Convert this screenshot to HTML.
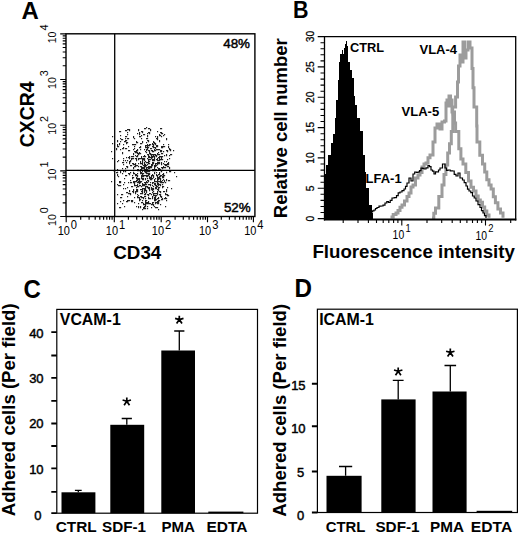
<!DOCTYPE html>
<html><head><meta charset="utf-8"><title>Figure</title>
<style>
html,body{margin:0;padding:0;background:#fff;}
body{width:520px;height:534px;overflow:hidden;}
svg{display:block;}
text{font-family:"Liberation Sans", sans-serif;fill:#000;}
.b{font-weight:bold;}
</style></head><body>
<svg width="520" height="534" viewBox="0 0 520 534">
<rect width="520" height="534" fill="#fff"/>
<g id="panelA">
<text class="b" transform="translate(21.5,18.8) scale(0.99,1)" font-size="24.2">A</text>
<rect x="66" y="33.8" width="188.9" height="182.7" fill="none" stroke="#000" stroke-width="1.4"/>
<line x1="114.7" y1="33.8" x2="114.7" y2="216.5" stroke="#000" stroke-width="1.3"/>
<line x1="66" y1="170.4" x2="254.9" y2="170.4" stroke="#000" stroke-width="1.3"/>
<path d="M66.2 216.5v5.8M66 216.5h-5.8M80.7 216.5v3.3M66 202.8h-3.3M89.1 216.5v3.3M66 194.7h-3.3M95.2 216.5v3.3M66 189.0h-3.3M99.8 216.5v3.3M66 184.6h-3.3M103.6 216.5v3.3M66 181.0h-3.3M106.8 216.5v3.3M66 177.9h-3.3M109.6 216.5v3.3M66 175.3h-3.3M112.1 216.5v3.3M66 172.9h-3.3M114.3 216.5v5.8M66 170.8h-5.8M128.4 216.5v3.3M66 157.1h-3.3M136.7 216.5v3.3M66 149.0h-3.3M142.5 216.5v3.3M66 143.3h-3.3M147.1 216.5v3.3M66 138.9h-3.3M150.8 216.5v3.3M66 135.3h-3.3M153.9 216.5v3.3M66 132.2h-3.3M156.7 216.5v3.3M66 129.6h-3.3M159.1 216.5v3.3M66 127.2h-3.3M161.2 216.5v5.8M66 125.2h-5.8M175.1 216.5v3.3M66 111.4h-3.3M183.3 216.5v3.3M66 103.4h-3.3M189.1 216.5v3.3M66 97.7h-3.3M193.6 216.5v3.3M66 93.2h-3.3M197.2 216.5v3.3M66 89.6h-3.3M200.3 216.5v3.3M66 86.6h-3.3M203.0 216.5v3.3M66 83.9h-3.3M205.4 216.5v3.3M66 81.6h-3.3M207.5 216.5v5.8M66 79.5h-5.8M221.3 216.5v3.3M66 65.7h-3.3M229.4 216.5v3.3M66 57.7h-3.3M235.1 216.5v3.3M66 52.0h-3.3M239.6 216.5v3.3M66 47.5h-3.3M243.2 216.5v3.3M66 43.9h-3.3M246.3 216.5v3.3M66 40.9h-3.3M249.0 216.5v3.3M66 38.2h-3.3M251.3 216.5v3.3M66 35.9h-3.3M253.4 216.5v5.8M66 33.8h-5.8" stroke="#000" stroke-width="1.15" fill="none"/>
<g transform="translate(57.7,235.1) scale(0.9,1)"><text font-size="12.2">10</text><text x="14.6" y="-5.8" font-size="12.4">0</text></g>
<g transform="translate(105.8,235.1) scale(0.9,1)"><text font-size="12.2">10</text><text x="14.6" y="-5.8" font-size="12.4">1</text></g>
<g transform="translate(151.8,235.1) scale(0.9,1)"><text font-size="12.2">10</text><text x="14.6" y="-5.8" font-size="12.4">2</text></g>
<g transform="translate(199.0,235.1) scale(0.9,1)"><text font-size="12.2">10</text><text x="14.6" y="-5.8" font-size="12.4">3</text></g>
<g transform="translate(244.2,235.1) scale(0.9,1)"><text font-size="12.2">10</text><text x="14.6" y="-5.8" font-size="12.4">4</text></g>
<text transform="translate(56,226.0) rotate(-90)" font-size="10.6">10<tspan dx="1.0" dy="-7.8" font-size="10.8">0</tspan></text>
<text transform="translate(56,180.3) rotate(-90)" font-size="10.6">10<tspan dx="1.0" dy="-7.8" font-size="10.8">1</tspan></text>
<text transform="translate(56,134.7) rotate(-90)" font-size="10.6">10<tspan dx="1.0" dy="-7.8" font-size="10.8">2</tspan></text>
<text transform="translate(56,89.0) rotate(-90)" font-size="10.6">10<tspan dx="1.0" dy="-7.8" font-size="10.8">3</tspan></text>
<text transform="translate(56,43.3) rotate(-90)" font-size="10.6">10<tspan dx="1.0" dy="-7.8" font-size="10.8">4</tspan></text>
<text class="b" transform="translate(33.6,147.2) rotate(-90)" font-size="19.4">CXCR4</text>
<text class="b" x="113.3" y="258.7" font-size="18.8">CD34</text>
<text x="223.2" y="47.9" font-size="13.4" stroke="#000" stroke-width="0.45">48%</text>
<text x="223.9" y="211.5" font-size="13.4" stroke="#000" stroke-width="0.45">52%</text>
<path d="M111 151h1.15v1.15h-1.15zM111 181h1.15v1.15h-1.15zM112 136h1.15v1.15h-1.15zM112 143h1.15v1.15h-1.15zM112 158h1.15v1.15h-1.15zM113 170h1.15v1.15h-1.15zM116 148h1.15v1.15h-1.15zM116 149h1.15v1.15h-1.15zM116 172h1.15v1.15h-1.15zM117 140h1.15v1.15h-1.15zM117 141h1.15v1.15h-1.15zM117 144h1.15v1.15h-1.15zM117 145h1.15v1.15h-1.15zM117 146h1.15v1.15h-1.15zM117 161h1.15v1.15h-1.15zM117 169h1.15v1.15h-1.15zM117 170h1.15v1.15h-1.15zM117 172h1.15v1.15h-1.15zM117 174h1.15v1.15h-1.15zM117 175h1.15v1.15h-1.15zM117 184h1.15v1.15h-1.15zM117 194h1.15v1.15h-1.15zM117 203h1.15v1.15h-1.15zM118 146h1.15v1.15h-1.15zM118 160h1.15v1.15h-1.15zM118 176h1.15v1.15h-1.15zM118 185h1.15v1.15h-1.15zM119 131h1.15v1.15h-1.15zM119 143h1.15v1.15h-1.15zM119 144h1.15v1.15h-1.15zM119 181h1.15v1.15h-1.15zM119 182h1.15v1.15h-1.15zM119 185h1.15v1.15h-1.15zM119 207h1.15v1.15h-1.15zM120 131h1.15v1.15h-1.15zM120 135h1.15v1.15h-1.15zM120 138h1.15v1.15h-1.15zM120 141h1.15v1.15h-1.15zM120 149h1.15v1.15h-1.15zM120 170h1.15v1.15h-1.15zM120 171h1.15v1.15h-1.15zM120 172h1.15v1.15h-1.15zM120 181h1.15v1.15h-1.15zM120 182h1.15v1.15h-1.15zM120 185h1.15v1.15h-1.15zM120 197h1.15v1.15h-1.15zM120 201h1.15v1.15h-1.15zM120 207h1.15v1.15h-1.15zM121 139h1.15v1.15h-1.15zM121 194h1.15v1.15h-1.15zM121 197h1.15v1.15h-1.15zM122 139h1.15v1.15h-1.15zM122 148h1.15v1.15h-1.15zM122 152h1.15v1.15h-1.15zM122 153h1.15v1.15h-1.15zM122 162h1.15v1.15h-1.15zM122 168h1.15v1.15h-1.15zM122 173h1.15v1.15h-1.15zM122 194h1.15v1.15h-1.15zM122 203h1.15v1.15h-1.15zM123 144h1.15v1.15h-1.15zM123 147h1.15v1.15h-1.15zM123 148h1.15v1.15h-1.15zM123 158h1.15v1.15h-1.15zM123 160h1.15v1.15h-1.15zM123 162h1.15v1.15h-1.15zM123 164h1.15v1.15h-1.15zM123 171h1.15v1.15h-1.15zM123 184h1.15v1.15h-1.15zM123 188h1.15v1.15h-1.15zM123 200h1.15v1.15h-1.15zM124 141h1.15v1.15h-1.15zM124 170h1.15v1.15h-1.15zM124 178h1.15v1.15h-1.15zM124 182h1.15v1.15h-1.15zM124 206h1.15v1.15h-1.15zM125 130h1.15v1.15h-1.15zM125 136h1.15v1.15h-1.15zM125 138h1.15v1.15h-1.15zM125 140h1.15v1.15h-1.15zM125 141h1.15v1.15h-1.15zM125 148h1.15v1.15h-1.15zM125 160h1.15v1.15h-1.15zM125 168h1.15v1.15h-1.15zM125 170h1.15v1.15h-1.15zM125 171h1.15v1.15h-1.15zM125 175h1.15v1.15h-1.15zM125 188h1.15v1.15h-1.15zM126 130h1.15v1.15h-1.15zM126 136h1.15v1.15h-1.15zM126 140h1.15v1.15h-1.15zM126 142h1.15v1.15h-1.15zM126 143h1.15v1.15h-1.15zM126 148h1.15v1.15h-1.15zM126 157h1.15v1.15h-1.15zM126 162h1.15v1.15h-1.15zM126 166h1.15v1.15h-1.15zM126 175h1.15v1.15h-1.15zM126 192h1.15v1.15h-1.15zM126 201h1.15v1.15h-1.15zM127 129h1.15v1.15h-1.15zM127 132h1.15v1.15h-1.15zM127 134h1.15v1.15h-1.15zM127 138h1.15v1.15h-1.15zM127 142h1.15v1.15h-1.15zM127 160h1.15v1.15h-1.15zM127 166h1.15v1.15h-1.15zM127 167h1.15v1.15h-1.15zM127 187h1.15v1.15h-1.15zM127 192h1.15v1.15h-1.15zM127 196h1.15v1.15h-1.15zM127 200h1.15v1.15h-1.15zM127 201h1.15v1.15h-1.15zM128 129h1.15v1.15h-1.15zM128 138h1.15v1.15h-1.15zM128 146h1.15v1.15h-1.15zM128 150h1.15v1.15h-1.15zM128 157h1.15v1.15h-1.15zM128 173h1.15v1.15h-1.15zM128 182h1.15v1.15h-1.15zM128 193h1.15v1.15h-1.15zM128 200h1.15v1.15h-1.15zM129 129h1.15v1.15h-1.15zM129 130h1.15v1.15h-1.15zM129 150h1.15v1.15h-1.15zM129 156h1.15v1.15h-1.15zM129 157h1.15v1.15h-1.15zM129 158h1.15v1.15h-1.15zM129 161h1.15v1.15h-1.15zM129 162h1.15v1.15h-1.15zM129 163h1.15v1.15h-1.15zM129 173h1.15v1.15h-1.15zM129 174h1.15v1.15h-1.15zM129 190h1.15v1.15h-1.15zM129 191h1.15v1.15h-1.15zM129 193h1.15v1.15h-1.15zM129 200h1.15v1.15h-1.15zM130 160h1.15v1.15h-1.15zM130 161h1.15v1.15h-1.15zM130 165h1.15v1.15h-1.15zM130 172h1.15v1.15h-1.15zM130 180h1.15v1.15h-1.15zM130 182h1.15v1.15h-1.15zM130 193h1.15v1.15h-1.15zM130 194h1.15v1.15h-1.15zM131 156h1.15v1.15h-1.15zM131 158h1.15v1.15h-1.15zM131 159h1.15v1.15h-1.15zM131 165h1.15v1.15h-1.15zM131 182h1.15v1.15h-1.15zM131 186h1.15v1.15h-1.15zM131 200h1.15v1.15h-1.15zM131 201h1.15v1.15h-1.15zM132 144h1.15v1.15h-1.15zM132 156h1.15v1.15h-1.15zM132 158h1.15v1.15h-1.15zM132 163h1.15v1.15h-1.15zM132 175h1.15v1.15h-1.15zM132 177h1.15v1.15h-1.15zM132 178h1.15v1.15h-1.15zM132 186h1.15v1.15h-1.15zM132 191h1.15v1.15h-1.15zM132 200h1.15v1.15h-1.15zM132 201h1.15v1.15h-1.15zM133 136h1.15v1.15h-1.15zM133 137h1.15v1.15h-1.15zM133 144h1.15v1.15h-1.15zM133 149h1.15v1.15h-1.15zM133 153h1.15v1.15h-1.15zM133 154h1.15v1.15h-1.15zM133 156h1.15v1.15h-1.15zM133 158h1.15v1.15h-1.15zM133 163h1.15v1.15h-1.15zM133 164h1.15v1.15h-1.15zM133 167h1.15v1.15h-1.15zM133 168h1.15v1.15h-1.15zM133 170h1.15v1.15h-1.15zM133 172h1.15v1.15h-1.15zM133 173h1.15v1.15h-1.15zM133 177h1.15v1.15h-1.15zM133 181h1.15v1.15h-1.15zM133 182h1.15v1.15h-1.15zM133 189h1.15v1.15h-1.15zM133 190h1.15v1.15h-1.15zM133 191h1.15v1.15h-1.15zM133 192h1.15v1.15h-1.15zM134 138h1.15v1.15h-1.15zM134 144h1.15v1.15h-1.15zM134 146h1.15v1.15h-1.15zM134 148h1.15v1.15h-1.15zM134 151h1.15v1.15h-1.15zM134 164h1.15v1.15h-1.15zM134 166h1.15v1.15h-1.15zM134 173h1.15v1.15h-1.15zM134 181h1.15v1.15h-1.15zM134 182h1.15v1.15h-1.15zM134 183h1.15v1.15h-1.15zM134 184h1.15v1.15h-1.15zM134 185h1.15v1.15h-1.15zM134 197h1.15v1.15h-1.15zM134 202h1.15v1.15h-1.15zM135 144h1.15v1.15h-1.15zM135 151h1.15v1.15h-1.15zM135 152h1.15v1.15h-1.15zM135 155h1.15v1.15h-1.15zM135 158h1.15v1.15h-1.15zM135 163h1.15v1.15h-1.15zM135 164h1.15v1.15h-1.15zM135 165h1.15v1.15h-1.15zM135 166h1.15v1.15h-1.15zM135 174h1.15v1.15h-1.15zM135 175h1.15v1.15h-1.15zM135 181h1.15v1.15h-1.15zM135 185h1.15v1.15h-1.15zM135 191h1.15v1.15h-1.15zM135 192h1.15v1.15h-1.15zM135 193h1.15v1.15h-1.15zM136 141h1.15v1.15h-1.15zM136 142h1.15v1.15h-1.15zM136 150h1.15v1.15h-1.15zM136 151h1.15v1.15h-1.15zM136 152h1.15v1.15h-1.15zM136 156h1.15v1.15h-1.15zM136 158h1.15v1.15h-1.15zM136 159h1.15v1.15h-1.15zM136 160h1.15v1.15h-1.15zM136 165h1.15v1.15h-1.15zM136 174h1.15v1.15h-1.15zM136 175h1.15v1.15h-1.15zM136 177h1.15v1.15h-1.15zM136 178h1.15v1.15h-1.15zM136 180h1.15v1.15h-1.15zM136 181h1.15v1.15h-1.15zM136 185h1.15v1.15h-1.15zM136 187h1.15v1.15h-1.15zM136 189h1.15v1.15h-1.15zM136 190h1.15v1.15h-1.15zM136 191h1.15v1.15h-1.15zM136 206h1.15v1.15h-1.15zM137 133h1.15v1.15h-1.15zM137 142h1.15v1.15h-1.15zM137 149h1.15v1.15h-1.15zM137 150h1.15v1.15h-1.15zM137 152h1.15v1.15h-1.15zM137 153h1.15v1.15h-1.15zM137 155h1.15v1.15h-1.15zM137 156h1.15v1.15h-1.15zM137 165h1.15v1.15h-1.15zM137 169h1.15v1.15h-1.15zM137 170h1.15v1.15h-1.15zM137 173h1.15v1.15h-1.15zM137 175h1.15v1.15h-1.15zM137 176h1.15v1.15h-1.15zM137 178h1.15v1.15h-1.15zM137 179h1.15v1.15h-1.15zM137 180h1.15v1.15h-1.15zM137 182h1.15v1.15h-1.15zM137 184h1.15v1.15h-1.15zM137 185h1.15v1.15h-1.15zM137 186h1.15v1.15h-1.15zM137 189h1.15v1.15h-1.15zM137 190h1.15v1.15h-1.15zM137 191h1.15v1.15h-1.15zM137 194h1.15v1.15h-1.15zM137 196h1.15v1.15h-1.15zM137 197h1.15v1.15h-1.15zM138 129h1.15v1.15h-1.15zM138 130h1.15v1.15h-1.15zM138 153h1.15v1.15h-1.15zM138 154h1.15v1.15h-1.15zM138 158h1.15v1.15h-1.15zM138 159h1.15v1.15h-1.15zM138 163h1.15v1.15h-1.15zM138 166h1.15v1.15h-1.15zM138 169h1.15v1.15h-1.15zM138 170h1.15v1.15h-1.15zM138 178h1.15v1.15h-1.15zM138 179h1.15v1.15h-1.15zM138 181h1.15v1.15h-1.15zM138 182h1.15v1.15h-1.15zM138 186h1.15v1.15h-1.15zM138 195h1.15v1.15h-1.15zM138 197h1.15v1.15h-1.15zM138 203h1.15v1.15h-1.15zM138 206h1.15v1.15h-1.15zM138 207h1.15v1.15h-1.15zM139 132h1.15v1.15h-1.15zM139 133h1.15v1.15h-1.15zM139 134h1.15v1.15h-1.15zM139 136h1.15v1.15h-1.15zM139 147h1.15v1.15h-1.15zM139 152h1.15v1.15h-1.15zM139 153h1.15v1.15h-1.15zM139 158h1.15v1.15h-1.15zM139 170h1.15v1.15h-1.15zM139 178h1.15v1.15h-1.15zM139 179h1.15v1.15h-1.15zM139 180h1.15v1.15h-1.15zM139 181h1.15v1.15h-1.15zM139 182h1.15v1.15h-1.15zM139 183h1.15v1.15h-1.15zM139 185h1.15v1.15h-1.15zM139 197h1.15v1.15h-1.15zM139 198h1.15v1.15h-1.15zM139 199h1.15v1.15h-1.15zM139 200h1.15v1.15h-1.15zM140 136h1.15v1.15h-1.15zM140 143h1.15v1.15h-1.15zM140 146h1.15v1.15h-1.15zM140 147h1.15v1.15h-1.15zM140 149h1.15v1.15h-1.15zM140 153h1.15v1.15h-1.15zM140 158h1.15v1.15h-1.15zM140 161h1.15v1.15h-1.15zM140 162h1.15v1.15h-1.15zM140 163h1.15v1.15h-1.15zM140 166h1.15v1.15h-1.15zM140 169h1.15v1.15h-1.15zM140 170h1.15v1.15h-1.15zM140 171h1.15v1.15h-1.15zM140 172h1.15v1.15h-1.15zM140 173h1.15v1.15h-1.15zM140 181h1.15v1.15h-1.15zM140 182h1.15v1.15h-1.15zM140 185h1.15v1.15h-1.15zM140 189h1.15v1.15h-1.15zM140 193h1.15v1.15h-1.15zM140 196h1.15v1.15h-1.15zM140 199h1.15v1.15h-1.15zM140 206h1.15v1.15h-1.15zM140 207h1.15v1.15h-1.15zM141 131h1.15v1.15h-1.15zM141 135h1.15v1.15h-1.15zM141 138h1.15v1.15h-1.15zM141 143h1.15v1.15h-1.15zM141 156h1.15v1.15h-1.15zM141 157h1.15v1.15h-1.15zM141 158h1.15v1.15h-1.15zM141 163h1.15v1.15h-1.15zM141 166h1.15v1.15h-1.15zM141 167h1.15v1.15h-1.15zM141 168h1.15v1.15h-1.15zM141 169h1.15v1.15h-1.15zM141 172h1.15v1.15h-1.15zM141 173h1.15v1.15h-1.15zM141 175h1.15v1.15h-1.15zM141 176h1.15v1.15h-1.15zM141 177h1.15v1.15h-1.15zM141 178h1.15v1.15h-1.15zM141 181h1.15v1.15h-1.15zM141 186h1.15v1.15h-1.15zM141 189h1.15v1.15h-1.15zM141 191h1.15v1.15h-1.15zM141 193h1.15v1.15h-1.15zM141 196h1.15v1.15h-1.15zM141 197h1.15v1.15h-1.15zM141 202h1.15v1.15h-1.15zM142 131h1.15v1.15h-1.15zM142 132h1.15v1.15h-1.15zM142 141h1.15v1.15h-1.15zM142 142h1.15v1.15h-1.15zM142 158h1.15v1.15h-1.15zM142 159h1.15v1.15h-1.15zM142 160h1.15v1.15h-1.15zM142 161h1.15v1.15h-1.15zM142 162h1.15v1.15h-1.15zM142 163h1.15v1.15h-1.15zM142 164h1.15v1.15h-1.15zM142 167h1.15v1.15h-1.15zM142 168h1.15v1.15h-1.15zM142 170h1.15v1.15h-1.15zM142 171h1.15v1.15h-1.15zM142 173h1.15v1.15h-1.15zM142 174h1.15v1.15h-1.15zM142 175h1.15v1.15h-1.15zM142 176h1.15v1.15h-1.15zM142 178h1.15v1.15h-1.15zM142 179h1.15v1.15h-1.15zM142 183h1.15v1.15h-1.15zM142 184h1.15v1.15h-1.15zM142 185h1.15v1.15h-1.15zM142 188h1.15v1.15h-1.15zM142 189h1.15v1.15h-1.15zM142 190h1.15v1.15h-1.15zM142 191h1.15v1.15h-1.15zM142 192h1.15v1.15h-1.15zM142 193h1.15v1.15h-1.15zM142 197h1.15v1.15h-1.15zM142 200h1.15v1.15h-1.15zM142 202h1.15v1.15h-1.15zM142 209h1.15v1.15h-1.15zM143 134h1.15v1.15h-1.15zM143 156h1.15v1.15h-1.15zM143 158h1.15v1.15h-1.15zM143 159h1.15v1.15h-1.15zM143 165h1.15v1.15h-1.15zM143 167h1.15v1.15h-1.15zM143 168h1.15v1.15h-1.15zM143 173h1.15v1.15h-1.15zM143 175h1.15v1.15h-1.15zM143 176h1.15v1.15h-1.15zM143 178h1.15v1.15h-1.15zM143 179h1.15v1.15h-1.15zM143 184h1.15v1.15h-1.15zM143 185h1.15v1.15h-1.15zM143 188h1.15v1.15h-1.15zM143 197h1.15v1.15h-1.15zM143 198h1.15v1.15h-1.15zM143 203h1.15v1.15h-1.15zM143 204h1.15v1.15h-1.15zM143 207h1.15v1.15h-1.15zM143 208h1.15v1.15h-1.15zM144 128h1.15v1.15h-1.15zM144 134h1.15v1.15h-1.15zM144 149h1.15v1.15h-1.15zM144 155h1.15v1.15h-1.15zM144 156h1.15v1.15h-1.15zM144 158h1.15v1.15h-1.15zM144 159h1.15v1.15h-1.15zM144 160h1.15v1.15h-1.15zM144 162h1.15v1.15h-1.15zM144 163h1.15v1.15h-1.15zM144 164h1.15v1.15h-1.15zM144 165h1.15v1.15h-1.15zM144 166h1.15v1.15h-1.15zM144 167h1.15v1.15h-1.15zM144 168h1.15v1.15h-1.15zM144 169h1.15v1.15h-1.15zM144 170h1.15v1.15h-1.15zM144 171h1.15v1.15h-1.15zM144 175h1.15v1.15h-1.15zM144 182h1.15v1.15h-1.15zM144 184h1.15v1.15h-1.15zM144 185h1.15v1.15h-1.15zM144 188h1.15v1.15h-1.15zM144 189h1.15v1.15h-1.15zM144 190h1.15v1.15h-1.15zM144 191h1.15v1.15h-1.15zM144 192h1.15v1.15h-1.15zM144 194h1.15v1.15h-1.15zM144 196h1.15v1.15h-1.15zM144 204h1.15v1.15h-1.15zM144 206h1.15v1.15h-1.15zM144 207h1.15v1.15h-1.15zM144 208h1.15v1.15h-1.15zM145 128h1.15v1.15h-1.15zM145 145h1.15v1.15h-1.15zM145 146h1.15v1.15h-1.15zM145 147h1.15v1.15h-1.15zM145 151h1.15v1.15h-1.15zM145 156h1.15v1.15h-1.15zM145 161h1.15v1.15h-1.15zM145 164h1.15v1.15h-1.15zM145 165h1.15v1.15h-1.15zM145 166h1.15v1.15h-1.15zM145 169h1.15v1.15h-1.15zM145 170h1.15v1.15h-1.15zM145 171h1.15v1.15h-1.15zM145 172h1.15v1.15h-1.15zM145 175h1.15v1.15h-1.15zM145 178h1.15v1.15h-1.15zM145 179h1.15v1.15h-1.15zM145 182h1.15v1.15h-1.15zM145 183h1.15v1.15h-1.15zM145 184h1.15v1.15h-1.15zM145 186h1.15v1.15h-1.15zM145 187h1.15v1.15h-1.15zM145 188h1.15v1.15h-1.15zM145 189h1.15v1.15h-1.15zM145 190h1.15v1.15h-1.15zM145 193h1.15v1.15h-1.15zM145 194h1.15v1.15h-1.15zM145 196h1.15v1.15h-1.15zM145 198h1.15v1.15h-1.15zM145 200h1.15v1.15h-1.15zM145 201h1.15v1.15h-1.15zM145 202h1.15v1.15h-1.15zM145 203h1.15v1.15h-1.15zM145 204h1.15v1.15h-1.15zM145 205h1.15v1.15h-1.15zM145 206h1.15v1.15h-1.15zM145 208h1.15v1.15h-1.15zM146 127h1.15v1.15h-1.15zM146 138h1.15v1.15h-1.15zM146 142h1.15v1.15h-1.15zM146 145h1.15v1.15h-1.15zM146 147h1.15v1.15h-1.15zM146 149h1.15v1.15h-1.15zM146 150h1.15v1.15h-1.15zM146 152h1.15v1.15h-1.15zM146 162h1.15v1.15h-1.15zM146 165h1.15v1.15h-1.15zM146 167h1.15v1.15h-1.15zM146 168h1.15v1.15h-1.15zM146 169h1.15v1.15h-1.15zM146 171h1.15v1.15h-1.15zM146 172h1.15v1.15h-1.15zM146 173h1.15v1.15h-1.15zM146 175h1.15v1.15h-1.15zM146 176h1.15v1.15h-1.15zM146 181h1.15v1.15h-1.15zM146 182h1.15v1.15h-1.15zM146 184h1.15v1.15h-1.15zM146 186h1.15v1.15h-1.15zM146 190h1.15v1.15h-1.15zM146 191h1.15v1.15h-1.15zM146 192h1.15v1.15h-1.15zM146 200h1.15v1.15h-1.15zM146 202h1.15v1.15h-1.15zM146 203h1.15v1.15h-1.15zM147 133h1.15v1.15h-1.15zM147 135h1.15v1.15h-1.15zM147 136h1.15v1.15h-1.15zM147 138h1.15v1.15h-1.15zM147 140h1.15v1.15h-1.15zM147 144h1.15v1.15h-1.15zM147 145h1.15v1.15h-1.15zM147 146h1.15v1.15h-1.15zM147 147h1.15v1.15h-1.15zM147 148h1.15v1.15h-1.15zM147 149h1.15v1.15h-1.15zM147 154h1.15v1.15h-1.15zM147 158h1.15v1.15h-1.15zM147 162h1.15v1.15h-1.15zM147 164h1.15v1.15h-1.15zM147 167h1.15v1.15h-1.15zM147 169h1.15v1.15h-1.15zM147 171h1.15v1.15h-1.15zM147 173h1.15v1.15h-1.15zM147 175h1.15v1.15h-1.15zM147 176h1.15v1.15h-1.15zM147 178h1.15v1.15h-1.15zM147 180h1.15v1.15h-1.15zM147 182h1.15v1.15h-1.15zM147 186h1.15v1.15h-1.15zM147 187h1.15v1.15h-1.15zM147 194h1.15v1.15h-1.15zM147 202h1.15v1.15h-1.15zM147 203h1.15v1.15h-1.15zM147 206h1.15v1.15h-1.15zM147 208h1.15v1.15h-1.15zM148 128h1.15v1.15h-1.15zM148 132h1.15v1.15h-1.15zM148 140h1.15v1.15h-1.15zM148 141h1.15v1.15h-1.15zM148 145h1.15v1.15h-1.15zM148 147h1.15v1.15h-1.15zM148 150h1.15v1.15h-1.15zM148 154h1.15v1.15h-1.15zM148 155h1.15v1.15h-1.15zM148 156h1.15v1.15h-1.15zM148 157h1.15v1.15h-1.15zM148 159h1.15v1.15h-1.15zM148 160h1.15v1.15h-1.15zM148 161h1.15v1.15h-1.15zM148 162h1.15v1.15h-1.15zM148 163h1.15v1.15h-1.15zM148 166h1.15v1.15h-1.15zM148 167h1.15v1.15h-1.15zM148 168h1.15v1.15h-1.15zM148 170h1.15v1.15h-1.15zM148 171h1.15v1.15h-1.15zM148 173h1.15v1.15h-1.15zM148 174h1.15v1.15h-1.15zM148 175h1.15v1.15h-1.15zM148 180h1.15v1.15h-1.15zM148 181h1.15v1.15h-1.15zM148 184h1.15v1.15h-1.15zM148 187h1.15v1.15h-1.15zM148 188h1.15v1.15h-1.15zM148 194h1.15v1.15h-1.15zM148 195h1.15v1.15h-1.15zM148 197h1.15v1.15h-1.15zM148 198h1.15v1.15h-1.15zM148 201h1.15v1.15h-1.15zM148 202h1.15v1.15h-1.15zM148 203h1.15v1.15h-1.15zM149 128h1.15v1.15h-1.15zM149 132h1.15v1.15h-1.15zM149 133h1.15v1.15h-1.15zM149 144h1.15v1.15h-1.15zM149 145h1.15v1.15h-1.15zM149 150h1.15v1.15h-1.15zM149 151h1.15v1.15h-1.15zM149 152h1.15v1.15h-1.15zM149 153h1.15v1.15h-1.15zM149 156h1.15v1.15h-1.15zM149 157h1.15v1.15h-1.15zM149 159h1.15v1.15h-1.15zM149 161h1.15v1.15h-1.15zM149 163h1.15v1.15h-1.15zM149 166h1.15v1.15h-1.15zM149 167h1.15v1.15h-1.15zM149 168h1.15v1.15h-1.15zM149 170h1.15v1.15h-1.15zM149 171h1.15v1.15h-1.15zM149 173h1.15v1.15h-1.15zM149 174h1.15v1.15h-1.15zM149 176h1.15v1.15h-1.15zM149 177h1.15v1.15h-1.15zM149 178h1.15v1.15h-1.15zM149 184h1.15v1.15h-1.15zM149 187h1.15v1.15h-1.15zM149 188h1.15v1.15h-1.15zM149 189h1.15v1.15h-1.15zM149 190h1.15v1.15h-1.15zM149 193h1.15v1.15h-1.15zM149 198h1.15v1.15h-1.15zM149 203h1.15v1.15h-1.15zM150 129h1.15v1.15h-1.15zM150 130h1.15v1.15h-1.15zM150 144h1.15v1.15h-1.15zM150 148h1.15v1.15h-1.15zM150 153h1.15v1.15h-1.15zM150 154h1.15v1.15h-1.15zM150 157h1.15v1.15h-1.15zM150 159h1.15v1.15h-1.15zM150 166h1.15v1.15h-1.15zM150 167h1.15v1.15h-1.15zM150 177h1.15v1.15h-1.15zM150 178h1.15v1.15h-1.15zM150 179h1.15v1.15h-1.15zM150 182h1.15v1.15h-1.15zM150 184h1.15v1.15h-1.15zM150 185h1.15v1.15h-1.15zM150 193h1.15v1.15h-1.15zM150 198h1.15v1.15h-1.15zM150 203h1.15v1.15h-1.15zM151 148h1.15v1.15h-1.15zM151 150h1.15v1.15h-1.15zM151 154h1.15v1.15h-1.15zM151 155h1.15v1.15h-1.15zM151 156h1.15v1.15h-1.15zM151 157h1.15v1.15h-1.15zM151 158h1.15v1.15h-1.15zM151 164h1.15v1.15h-1.15zM151 165h1.15v1.15h-1.15zM151 166h1.15v1.15h-1.15zM151 167h1.15v1.15h-1.15zM151 175h1.15v1.15h-1.15zM151 176h1.15v1.15h-1.15zM151 177h1.15v1.15h-1.15zM151 178h1.15v1.15h-1.15zM151 179h1.15v1.15h-1.15zM151 187h1.15v1.15h-1.15zM151 188h1.15v1.15h-1.15zM151 189h1.15v1.15h-1.15zM151 194h1.15v1.15h-1.15zM151 204h1.15v1.15h-1.15zM151 207h1.15v1.15h-1.15zM152 143h1.15v1.15h-1.15zM152 144h1.15v1.15h-1.15zM152 146h1.15v1.15h-1.15zM152 150h1.15v1.15h-1.15zM152 151h1.15v1.15h-1.15zM152 154h1.15v1.15h-1.15zM152 156h1.15v1.15h-1.15zM152 157h1.15v1.15h-1.15zM152 159h1.15v1.15h-1.15zM152 160h1.15v1.15h-1.15zM152 162h1.15v1.15h-1.15zM152 163h1.15v1.15h-1.15zM152 164h1.15v1.15h-1.15zM152 165h1.15v1.15h-1.15zM152 169h1.15v1.15h-1.15zM152 170h1.15v1.15h-1.15zM152 174h1.15v1.15h-1.15zM152 175h1.15v1.15h-1.15zM152 178h1.15v1.15h-1.15zM152 182h1.15v1.15h-1.15zM152 183h1.15v1.15h-1.15zM152 185h1.15v1.15h-1.15zM152 188h1.15v1.15h-1.15zM152 189h1.15v1.15h-1.15zM152 190h1.15v1.15h-1.15zM152 192h1.15v1.15h-1.15zM152 196h1.15v1.15h-1.15zM152 197h1.15v1.15h-1.15zM152 198h1.15v1.15h-1.15zM152 202h1.15v1.15h-1.15zM152 203h1.15v1.15h-1.15zM152 204h1.15v1.15h-1.15zM153 141h1.15v1.15h-1.15zM153 142h1.15v1.15h-1.15zM153 144h1.15v1.15h-1.15zM153 145h1.15v1.15h-1.15zM153 146h1.15v1.15h-1.15zM153 147h1.15v1.15h-1.15zM153 151h1.15v1.15h-1.15zM153 154h1.15v1.15h-1.15zM153 155h1.15v1.15h-1.15zM153 156h1.15v1.15h-1.15zM153 159h1.15v1.15h-1.15zM153 160h1.15v1.15h-1.15zM153 162h1.15v1.15h-1.15zM153 163h1.15v1.15h-1.15zM153 169h1.15v1.15h-1.15zM153 170h1.15v1.15h-1.15zM153 175h1.15v1.15h-1.15zM153 176h1.15v1.15h-1.15zM153 177h1.15v1.15h-1.15zM153 182h1.15v1.15h-1.15zM153 186h1.15v1.15h-1.15zM153 188h1.15v1.15h-1.15zM153 189h1.15v1.15h-1.15zM153 191h1.15v1.15h-1.15zM153 193h1.15v1.15h-1.15zM153 194h1.15v1.15h-1.15zM153 195h1.15v1.15h-1.15zM153 202h1.15v1.15h-1.15zM153 204h1.15v1.15h-1.15zM153 205h1.15v1.15h-1.15zM154 142h1.15v1.15h-1.15zM154 143h1.15v1.15h-1.15zM154 147h1.15v1.15h-1.15zM154 149h1.15v1.15h-1.15zM154 150h1.15v1.15h-1.15zM154 154h1.15v1.15h-1.15zM154 156h1.15v1.15h-1.15zM154 157h1.15v1.15h-1.15zM154 158h1.15v1.15h-1.15zM154 159h1.15v1.15h-1.15zM154 160h1.15v1.15h-1.15zM154 165h1.15v1.15h-1.15zM154 166h1.15v1.15h-1.15zM154 167h1.15v1.15h-1.15zM154 168h1.15v1.15h-1.15zM154 169h1.15v1.15h-1.15zM154 170h1.15v1.15h-1.15zM154 172h1.15v1.15h-1.15zM154 173h1.15v1.15h-1.15zM154 179h1.15v1.15h-1.15zM154 180h1.15v1.15h-1.15zM154 181h1.15v1.15h-1.15zM154 183h1.15v1.15h-1.15zM154 184h1.15v1.15h-1.15zM154 193h1.15v1.15h-1.15zM154 195h1.15v1.15h-1.15zM154 197h1.15v1.15h-1.15zM154 198h1.15v1.15h-1.15zM154 199h1.15v1.15h-1.15zM154 200h1.15v1.15h-1.15zM154 206h1.15v1.15h-1.15zM155 136h1.15v1.15h-1.15zM155 143h1.15v1.15h-1.15zM155 144h1.15v1.15h-1.15zM155 147h1.15v1.15h-1.15zM155 148h1.15v1.15h-1.15zM155 150h1.15v1.15h-1.15zM155 154h1.15v1.15h-1.15zM155 155h1.15v1.15h-1.15zM155 163h1.15v1.15h-1.15zM155 164h1.15v1.15h-1.15zM155 165h1.15v1.15h-1.15zM155 166h1.15v1.15h-1.15zM155 169h1.15v1.15h-1.15zM155 170h1.15v1.15h-1.15zM155 178h1.15v1.15h-1.15zM155 181h1.15v1.15h-1.15zM155 183h1.15v1.15h-1.15zM155 184h1.15v1.15h-1.15zM155 185h1.15v1.15h-1.15zM155 187h1.15v1.15h-1.15zM155 188h1.15v1.15h-1.15zM155 193h1.15v1.15h-1.15zM155 195h1.15v1.15h-1.15zM155 196h1.15v1.15h-1.15zM155 197h1.15v1.15h-1.15zM155 198h1.15v1.15h-1.15zM155 199h1.15v1.15h-1.15zM155 200h1.15v1.15h-1.15zM155 202h1.15v1.15h-1.15zM155 203h1.15v1.15h-1.15zM155 207h1.15v1.15h-1.15zM156 138h1.15v1.15h-1.15zM156 145h1.15v1.15h-1.15zM156 146h1.15v1.15h-1.15zM156 149h1.15v1.15h-1.15zM156 155h1.15v1.15h-1.15zM156 156h1.15v1.15h-1.15zM156 159h1.15v1.15h-1.15zM156 163h1.15v1.15h-1.15zM156 165h1.15v1.15h-1.15zM156 169h1.15v1.15h-1.15zM156 172h1.15v1.15h-1.15zM156 174h1.15v1.15h-1.15zM156 175h1.15v1.15h-1.15zM156 181h1.15v1.15h-1.15zM156 185h1.15v1.15h-1.15zM156 186h1.15v1.15h-1.15zM156 187h1.15v1.15h-1.15zM156 188h1.15v1.15h-1.15zM156 193h1.15v1.15h-1.15zM156 195h1.15v1.15h-1.15zM156 199h1.15v1.15h-1.15zM156 202h1.15v1.15h-1.15zM156 207h1.15v1.15h-1.15zM157 131h1.15v1.15h-1.15zM157 136h1.15v1.15h-1.15zM157 137h1.15v1.15h-1.15zM157 138h1.15v1.15h-1.15zM157 139h1.15v1.15h-1.15zM157 145h1.15v1.15h-1.15zM157 146h1.15v1.15h-1.15zM157 149h1.15v1.15h-1.15zM157 153h1.15v1.15h-1.15zM157 154h1.15v1.15h-1.15zM157 158h1.15v1.15h-1.15zM157 159h1.15v1.15h-1.15zM157 160h1.15v1.15h-1.15zM157 162h1.15v1.15h-1.15zM157 163h1.15v1.15h-1.15zM157 164h1.15v1.15h-1.15zM157 167h1.15v1.15h-1.15zM157 175h1.15v1.15h-1.15zM157 176h1.15v1.15h-1.15zM157 177h1.15v1.15h-1.15zM157 178h1.15v1.15h-1.15zM157 179h1.15v1.15h-1.15zM157 180h1.15v1.15h-1.15zM157 181h1.15v1.15h-1.15zM157 182h1.15v1.15h-1.15zM157 183h1.15v1.15h-1.15zM157 184h1.15v1.15h-1.15zM157 186h1.15v1.15h-1.15zM157 189h1.15v1.15h-1.15zM157 191h1.15v1.15h-1.15zM157 192h1.15v1.15h-1.15zM157 193h1.15v1.15h-1.15zM157 194h1.15v1.15h-1.15zM157 198h1.15v1.15h-1.15zM157 201h1.15v1.15h-1.15zM157 202h1.15v1.15h-1.15zM157 203h1.15v1.15h-1.15zM157 207h1.15v1.15h-1.15zM158 149h1.15v1.15h-1.15zM158 152h1.15v1.15h-1.15zM158 154h1.15v1.15h-1.15zM158 157h1.15v1.15h-1.15zM158 160h1.15v1.15h-1.15zM158 162h1.15v1.15h-1.15zM158 163h1.15v1.15h-1.15zM158 168h1.15v1.15h-1.15zM158 169h1.15v1.15h-1.15zM158 174h1.15v1.15h-1.15zM158 177h1.15v1.15h-1.15zM158 178h1.15v1.15h-1.15zM158 179h1.15v1.15h-1.15zM158 181h1.15v1.15h-1.15zM158 183h1.15v1.15h-1.15zM158 184h1.15v1.15h-1.15zM158 185h1.15v1.15h-1.15zM158 187h1.15v1.15h-1.15zM158 188h1.15v1.15h-1.15zM158 189h1.15v1.15h-1.15zM158 190h1.15v1.15h-1.15zM158 197h1.15v1.15h-1.15zM158 198h1.15v1.15h-1.15zM158 200h1.15v1.15h-1.15zM158 201h1.15v1.15h-1.15zM158 202h1.15v1.15h-1.15zM158 203h1.15v1.15h-1.15zM158 209h1.15v1.15h-1.15zM159 134h1.15v1.15h-1.15zM159 135h1.15v1.15h-1.15zM159 140h1.15v1.15h-1.15zM159 141h1.15v1.15h-1.15zM159 149h1.15v1.15h-1.15zM159 154h1.15v1.15h-1.15zM159 156h1.15v1.15h-1.15zM159 157h1.15v1.15h-1.15zM159 158h1.15v1.15h-1.15zM159 159h1.15v1.15h-1.15zM159 160h1.15v1.15h-1.15zM159 162h1.15v1.15h-1.15zM159 163h1.15v1.15h-1.15zM159 168h1.15v1.15h-1.15zM159 169h1.15v1.15h-1.15zM159 172h1.15v1.15h-1.15zM159 173h1.15v1.15h-1.15zM159 174h1.15v1.15h-1.15zM159 176h1.15v1.15h-1.15zM159 177h1.15v1.15h-1.15zM159 178h1.15v1.15h-1.15zM159 181h1.15v1.15h-1.15zM159 184h1.15v1.15h-1.15zM159 187h1.15v1.15h-1.15zM159 191h1.15v1.15h-1.15zM159 194h1.15v1.15h-1.15zM159 200h1.15v1.15h-1.15zM160 128h1.15v1.15h-1.15zM160 132h1.15v1.15h-1.15zM160 135h1.15v1.15h-1.15zM160 150h1.15v1.15h-1.15zM160 151h1.15v1.15h-1.15zM160 156h1.15v1.15h-1.15zM160 159h1.15v1.15h-1.15zM160 169h1.15v1.15h-1.15zM160 170h1.15v1.15h-1.15zM160 175h1.15v1.15h-1.15zM160 176h1.15v1.15h-1.15zM160 178h1.15v1.15h-1.15zM160 179h1.15v1.15h-1.15zM160 180h1.15v1.15h-1.15zM160 181h1.15v1.15h-1.15zM160 182h1.15v1.15h-1.15zM160 184h1.15v1.15h-1.15zM160 185h1.15v1.15h-1.15zM160 191h1.15v1.15h-1.15zM160 192h1.15v1.15h-1.15zM160 194h1.15v1.15h-1.15zM160 195h1.15v1.15h-1.15zM160 196h1.15v1.15h-1.15zM160 204h1.15v1.15h-1.15zM161 128h1.15v1.15h-1.15zM161 132h1.15v1.15h-1.15zM161 133h1.15v1.15h-1.15zM161 136h1.15v1.15h-1.15zM161 146h1.15v1.15h-1.15zM161 147h1.15v1.15h-1.15zM161 150h1.15v1.15h-1.15zM161 151h1.15v1.15h-1.15zM161 153h1.15v1.15h-1.15zM161 156h1.15v1.15h-1.15zM161 157h1.15v1.15h-1.15zM161 158h1.15v1.15h-1.15zM161 159h1.15v1.15h-1.15zM161 162h1.15v1.15h-1.15zM161 163h1.15v1.15h-1.15zM161 164h1.15v1.15h-1.15zM161 167h1.15v1.15h-1.15zM161 171h1.15v1.15h-1.15zM161 175h1.15v1.15h-1.15zM161 181h1.15v1.15h-1.15zM161 182h1.15v1.15h-1.15zM161 196h1.15v1.15h-1.15zM161 197h1.15v1.15h-1.15zM161 199h1.15v1.15h-1.15zM162 133h1.15v1.15h-1.15zM162 146h1.15v1.15h-1.15zM162 147h1.15v1.15h-1.15zM162 153h1.15v1.15h-1.15zM162 156h1.15v1.15h-1.15zM162 159h1.15v1.15h-1.15zM162 167h1.15v1.15h-1.15zM162 168h1.15v1.15h-1.15zM162 174h1.15v1.15h-1.15zM162 176h1.15v1.15h-1.15zM162 177h1.15v1.15h-1.15zM162 180h1.15v1.15h-1.15zM162 182h1.15v1.15h-1.15zM162 184h1.15v1.15h-1.15zM162 186h1.15v1.15h-1.15zM162 187h1.15v1.15h-1.15zM162 198h1.15v1.15h-1.15zM162 199h1.15v1.15h-1.15zM163 135h1.15v1.15h-1.15zM163 144h1.15v1.15h-1.15zM163 146h1.15v1.15h-1.15zM163 151h1.15v1.15h-1.15zM163 163h1.15v1.15h-1.15zM163 166h1.15v1.15h-1.15zM163 167h1.15v1.15h-1.15zM163 173h1.15v1.15h-1.15zM163 174h1.15v1.15h-1.15zM163 175h1.15v1.15h-1.15zM163 176h1.15v1.15h-1.15zM163 177h1.15v1.15h-1.15zM163 179h1.15v1.15h-1.15zM163 182h1.15v1.15h-1.15zM163 186h1.15v1.15h-1.15zM163 191h1.15v1.15h-1.15zM164 134h1.15v1.15h-1.15zM164 146h1.15v1.15h-1.15zM164 155h1.15v1.15h-1.15zM164 161h1.15v1.15h-1.15zM164 164h1.15v1.15h-1.15zM164 167h1.15v1.15h-1.15zM164 175h1.15v1.15h-1.15zM164 180h1.15v1.15h-1.15zM164 181h1.15v1.15h-1.15zM164 191h1.15v1.15h-1.15zM164 198h1.15v1.15h-1.15zM165 164h1.15v1.15h-1.15zM165 165h1.15v1.15h-1.15zM165 167h1.15v1.15h-1.15zM165 182h1.15v1.15h-1.15zM165 193h1.15v1.15h-1.15zM165 194h1.15v1.15h-1.15zM165 197h1.15v1.15h-1.15zM165 198h1.15v1.15h-1.15zM165 206h1.15v1.15h-1.15zM166 138h1.15v1.15h-1.15zM166 139h1.15v1.15h-1.15zM166 150h1.15v1.15h-1.15zM166 154h1.15v1.15h-1.15zM166 155h1.15v1.15h-1.15zM166 161h1.15v1.15h-1.15zM166 164h1.15v1.15h-1.15zM166 165h1.15v1.15h-1.15zM166 170h1.15v1.15h-1.15zM166 172h1.15v1.15h-1.15zM166 179h1.15v1.15h-1.15zM166 180h1.15v1.15h-1.15zM166 189h1.15v1.15h-1.15zM166 190h1.15v1.15h-1.15zM166 191h1.15v1.15h-1.15zM166 194h1.15v1.15h-1.15zM166 198h1.15v1.15h-1.15zM166 200h1.15v1.15h-1.15zM167 150h1.15v1.15h-1.15zM167 151h1.15v1.15h-1.15zM167 159h1.15v1.15h-1.15zM167 163h1.15v1.15h-1.15zM167 164h1.15v1.15h-1.15zM167 166h1.15v1.15h-1.15zM167 187h1.15v1.15h-1.15zM167 194h1.15v1.15h-1.15zM167 195h1.15v1.15h-1.15zM168 144h1.15v1.15h-1.15zM168 146h1.15v1.15h-1.15zM168 147h1.15v1.15h-1.15zM168 162h1.15v1.15h-1.15zM168 163h1.15v1.15h-1.15zM168 164h1.15v1.15h-1.15zM168 166h1.15v1.15h-1.15zM168 180h1.15v1.15h-1.15zM168 195h1.15v1.15h-1.15zM169 148h1.15v1.15h-1.15zM169 149h1.15v1.15h-1.15zM169 155h1.15v1.15h-1.15zM169 158h1.15v1.15h-1.15zM169 167h1.15v1.15h-1.15zM169 168h1.15v1.15h-1.15zM169 171h1.15v1.15h-1.15zM169 180h1.15v1.15h-1.15zM170 149h1.15v1.15h-1.15zM170 150h1.15v1.15h-1.15zM170 154h1.15v1.15h-1.15zM170 171h1.15v1.15h-1.15zM171 154h1.15v1.15h-1.15zM171 188h1.15v1.15h-1.15zM173 150h1.15v1.15h-1.15zM174 172h1.15v1.15h-1.15zM176 176h1.15v1.15h-1.15z" fill="#000" opacity="0.88"/>
</g>
<g id="panelB">
<text class="b" transform="translate(293.1,18.2) scale(0.88,1)" font-size="24.4">B</text>
<path d="M324.5 220.4H324.5V174H326V165H328V155H331V142.5H333V134H335V118H336V100H337.5V80H339V62H340V54H341.5V50H342.5V54H343.5V48H345V44H345.8V40.5H346.5V46H347.5V54H348V62H350V70H352V78H353.5V96H355V105H357V118H360V131H362.5V155H364.5V172H366V187.5H369V205H371.5V213H372.5V220.4Z" fill="#000" shape-rendering="crispEdges"/>
<path d="M390.5 217.0H393.2V214.4H396.0V213.0H398.0V210.5H400.0V207.3H402.0V205.0H404.5V201.1H407.0V196.5H409.0V193.1H411.0V187.1H413.0V185.0H415.5V177.9H418.0V175.0H420.0V172.5H422.0V167.0H424.0V163.9H426.0V163.0H428.0V157.7H430.0V155.0H433.0V142.0H435.0V128.0H437.0V124.0H440.0V129.0H442.0V122.0H444.5V121.0H446.0V103.0H447.0V100.0H448.0V106.0H449.0V96.0H450.5V100.0H452.0V112.0H454.5V123.0H455.6V131.5H458.8V148.8H460.9V158.9H463.0V164.0H465.8V172.4H468.5V181.0H471.0V187.3H473.5V190.9H476.0V196.0H478.2V200.1H480.3V202.2H482.5V207.0H484.7V211.0H486.8V215.1H489.0V217.8" fill="none" stroke="#9c9c9c" stroke-width="3" stroke-linejoin="miter"/>
<path d="M432.0 218.0H433.8V213.3H435.5V208.0H438.8V196.5H442.0V185.0H444.0V174.5H445.9V164.9H447.7V153.0H449.5V143.8H451.3V131.5H452.8V114.0H452.7V107.0H455.6V97.0H457.5V82.0H458.5V66.0H460.0V55.0H461.5V62.0H463.0V42.0H464.5V58.0H466.0V50.0H468.0V42.0H470.0V48.0H472.0V53.0H472.0V68.5H473.0V87.7H474.0V107.0H476.7V126.0H477.0V142.0H479.8V155.3H482.5V164.0H484.7V172.1H486.8V179.8H489.0V185.0H491.1V189.1H493.3V196.7H495.4V202.7H497.9V209.0H500.5V213.1H503.0V217.8" fill="none" stroke="#9c9c9c" stroke-width="3" stroke-linejoin="miter"/>
<path d="M371.0 212.0H372.5V210.9H374.0V210.0H375.5V208.5H377.0V207.5H379.0V206.1H381.0V206.0H383.0V205.2H385.0V203.0H386.8V201.7H388.5V202.5H390.2V200.3H392.0V198.0H394.2V197.7H396.5V195.6H398.2V192.8H400.0V192.0H402.0V190.6H404.0V189.0H405.5V186.3H407.0V183.0H409.0V178.0H411.0V181.0H413.0V174.0H414.7V172.0H416.3V172.3H418.0V172.0H419.5V170.6H421.0V168.0H422.5V168.4H424.0V169.0H426.0V167.9H428.0V165.5H429.5V166.7H431.0V170.0H432.5V171.2H434.0V174.0H435.5V171.9H437.0V172.0H438.5V170.0H440.0V168.0H442.5V164.0H445.0V168.0H446.5V170.3H448.0V170.0H450.2V170.8H452.5V171.0H454.2V174.3H456.0V176.0H458.0V173.0H460.0V178.0H462.5V180.0H464.2V182.7H466.0V186.0H467.5V189.1H469.0V191.0H470.8V192.6H472.5V196.0H474.2V198.0H476.0V201.0H478.0V204.6H480.0V207.5H481.5V210.6H483.0V213.0H484.5V215.6H486.0V218.0" fill="none" stroke="#000" stroke-width="1.2"/>
<path d="M324.5 220.4V36.6H515.7V220.4" fill="none" stroke="#000" stroke-width="1.3"/>
<path d="M323.9 219.5H516.3000000000001" fill="none" stroke="#000" stroke-width="1.9"/>
<path d="M324.5 218.6h-6.8M324.5 212.5h-4.0M324.5 206.5h-4.0M324.5 200.4h-4.0M324.5 194.3h-4.0M324.5 188.3h-6.8M324.5 182.2h-4.0M324.5 176.1h-4.0M324.5 170.1h-4.0M324.5 164.0h-4.0M324.5 157.9h-6.8M324.5 151.9h-4.0M324.5 145.8h-4.0M324.5 139.7h-4.0M324.5 133.7h-4.0M324.5 127.6h-6.8M324.5 121.5h-4.0M324.5 115.5h-4.0M324.5 109.4h-4.0M324.5 103.3h-4.0M324.5 97.3h-6.8M324.5 91.2h-4.0M324.5 85.1h-4.0M324.5 79.1h-4.0M324.5 73.0h-4.0M324.5 66.9h-6.8M324.5 60.9h-4.0M324.5 54.8h-4.0M324.5 48.7h-4.0M324.5 42.7h-4.0M324.5 36.6h-6.8M343.2 219.5v3.5M358.0 219.5v3.5M368.4 219.5v3.5M376.5 219.5v3.5M383.2 219.5v3.5M388.8 219.5v3.5M393.6 219.5v3.5M397.9 219.5v3.5M401.8 219.5v6M427.0 219.5v3.5M441.7 219.5v3.5M452.2 219.5v3.5M460.3 219.5v3.5M466.9 219.5v3.5M472.5 219.5v3.5M477.4 219.5v3.5M481.7 219.5v3.5M485.5 219.5v6M510.7 219.5v3.5" stroke="#000" stroke-width="1.1" fill="none"/>
<text transform="translate(313.5,218.6) rotate(-90)" font-size="10.3" text-anchor="middle" stroke="#000" stroke-width="0.25">0</text>
<text transform="translate(313.5,188.3) rotate(-90)" font-size="10.3" text-anchor="middle" stroke="#000" stroke-width="0.25">5</text>
<text transform="translate(313.5,157.9) rotate(-90)" font-size="10.3" text-anchor="middle" stroke="#000" stroke-width="0.25">10</text>
<text transform="translate(313.5,127.6) rotate(-90)" font-size="10.3" text-anchor="middle" stroke="#000" stroke-width="0.25">15</text>
<text transform="translate(313.5,97.3) rotate(-90)" font-size="10.3" text-anchor="middle" stroke="#000" stroke-width="0.25">20</text>
<text transform="translate(313.5,66.9) rotate(-90)" font-size="10.3" text-anchor="middle" stroke="#000" stroke-width="0.25">25</text>
<text transform="translate(313.5,36.6) rotate(-90)" font-size="10.3" text-anchor="middle" stroke="#000" stroke-width="0.25">30</text>
<g transform="translate(392.6,239.4) scale(0.8,1)"><text font-size="13">10</text><text x="16.1" y="-7.4" font-size="11.8">1</text></g>
<g transform="translate(475.4,239.5) scale(0.8,1)"><text font-size="13">10</text><text x="16.1" y="-7.3" font-size="11.8">2</text></g>
<text class="b" transform="translate(286.7,218.2) rotate(-90)" font-size="18.5">Relative cell number</text>
<text class="b" x="312.4" y="258.2" font-size="18.7">Fluorescence intensity</text>
<text class="b" x="350" y="52.2" font-size="12.8">CTRL</text>
<text class="b" x="419.5" y="54" font-size="13">VLA-4</text>
<text class="b" x="401.6" y="116" font-size="13">VLA-5</text>
<text class="b" x="365.5" y="182.5" font-size="13">LFA-1</text>
</g>
<g id="panelC">
<text class="b" transform="translate(23.4,297.6) scale(0.94,1)" font-size="25.5">C</text>
<rect x="61.5" y="492.3" width="33.9" height="20.9" fill="#000"/>
<path d="M78.3 492.3V490.3M74.9 490.3H81.7" stroke="#000" stroke-width="1.3" fill="none"/>
<rect x="110.3" y="424.8" width="33.9" height="88.4" fill="#000"/>
<path d="M126.8 424.8V418.5M121.7 418.5H131.9" stroke="#000" stroke-width="1.3" fill="none"/>
<path transform="translate(126.8,401.2)" d="M0 0V-3.8M0 0L-4.2 -1.2M0 0L4.2 -1.2M0 0L-2.7 4M0 0L2.7 4" stroke="#000" stroke-width="1.7" fill="none"/>
<rect x="161.3" y="350.5" width="33.7" height="162.7" fill="#000"/>
<path d="M179.3 350.5V331M174.2 331H184.4" stroke="#000" stroke-width="1.3" fill="none"/>
<path transform="translate(179.3,319.6)" d="M0 0V-3.8M0 0L-4.2 -1.2M0 0L4.2 -1.2M0 0L-2.7 4M0 0L2.7 4" stroke="#000" stroke-width="1.7" fill="none"/>
<rect x="208.3" y="511.6" width="35.1" height="1.6" fill="#000"/>
<rect x="56.8" y="309.4" width="200.7" height="203.80000000000007" fill="none" stroke="#000" stroke-width="1.2"/>
<text x="43.6" y="337.7" font-size="13" text-anchor="end" stroke="#000" stroke-width="0.45">40</text>
<text x="43.6" y="382.7" font-size="13" text-anchor="end" stroke="#000" stroke-width="0.45">30</text>
<text x="43.6" y="427.7" font-size="13" text-anchor="end" stroke="#000" stroke-width="0.45">20</text>
<text x="43.6" y="474.2" font-size="13" text-anchor="end" stroke="#000" stroke-width="0.45">10</text>
<text x="41.5" y="520.4" font-size="13" text-anchor="end" stroke="#000" stroke-width="0.45">0</text>
<path d="M56.8 332.2h-5.5M56.8 377.8h-5.5M56.8 423.5h-5.5M56.8 468.4h-5.5M56.8 513.2h-5.5M56.8 355.5h-5.5M56.8 400.8h-5.5M56.8 446h-5.5M56.8 491.8h-5.5" stroke="#000" stroke-width="1.8" fill="none"/>
<text class="b" x="59.8" y="325.2" font-size="15.9">VCAM-1</text>
<text class="b" x="55.7" y="531.8" font-size="15" textLength="41" lengthAdjust="spacingAndGlyphs">CTRL</text>
<text class="b" x="102" y="531.8" font-size="15" textLength="44" lengthAdjust="spacingAndGlyphs">SDF-1</text>
<text class="b" x="161.5" y="531.8" font-size="15" textLength="33.5" lengthAdjust="spacingAndGlyphs">PMA</text>
<text class="b" x="206.5" y="531.8" font-size="15" textLength="41" lengthAdjust="spacingAndGlyphs">EDTA</text>
<text class="b" transform="translate(14.5,516.2) rotate(-90)" font-size="18.6">Adhered cells (Per field)</text>
</g>
<g id="panelD">
<text class="b" transform="translate(294.6,297.0) scale(0.95,1)" font-size="25.5">D</text>
<rect x="326.5" y="475.8" width="35.1" height="36.7" fill="#000"/>
<path d="M345.6 475.8V466.5M339.0 466.5H352.2" stroke="#000" stroke-width="1.3" fill="none"/>
<rect x="381.3" y="399.4" width="34.3" height="113.1" fill="#000"/>
<path d="M398.2 399.4V380.3M392.8 380.3H403.6" stroke="#000" stroke-width="1.3" fill="none"/>
<path transform="translate(398.2,371.2)" d="M0 0V-3.8M0 0L-4.2 -1.2M0 0L4.2 -1.2M0 0L-2.7 4M0 0L2.7 4" stroke="#000" stroke-width="1.7" fill="none"/>
<rect x="432.5" y="391.5" width="34.1" height="121.0" fill="#000"/>
<path d="M450.3 391.5V365.5M444.5 365.5H456.1" stroke="#000" stroke-width="1.3" fill="none"/>
<path transform="translate(450.3,352.4)" d="M0 0V-3.8M0 0L-4.2 -1.2M0 0L4.2 -1.2M0 0L-2.7 4M0 0L2.7 4" stroke="#000" stroke-width="1.7" fill="none"/>
<rect x="476.6" y="510.8" width="35.6" height="1.7" fill="#000"/>
<rect x="317.4" y="309.2" width="200.0" height="203.3" fill="none" stroke="#000" stroke-width="1.2"/>
<text x="305.6" y="390" font-size="13" text-anchor="end" stroke="#000" stroke-width="0.45">15</text>
<text x="305.6" y="432.8" font-size="13" text-anchor="end" stroke="#000" stroke-width="0.45">10</text>
<text x="304.2" y="477.3" font-size="13" text-anchor="end" stroke="#000" stroke-width="0.45">5</text>
<text x="304.2" y="519.6" font-size="13" text-anchor="end" stroke="#000" stroke-width="0.45">0</text>
<path d="M317.4 383.8h-5.5M317.4 426.3h-5.5M317.4 471.4h-5.5M317.4 512.5h-5.5" stroke="#000" stroke-width="2.0" fill="none"/>
<text class="b" x="319.2" y="325.2" font-size="15.9">ICAM-1</text>
<text class="b" x="325.7" y="531.8" font-size="15" textLength="39.7" lengthAdjust="spacingAndGlyphs">CTRL</text>
<text class="b" x="375.4" y="531.8" font-size="15" textLength="44.2" lengthAdjust="spacingAndGlyphs">SDF-1</text>
<text class="b" x="430" y="531.8" font-size="15" textLength="34" lengthAdjust="spacingAndGlyphs">PMA</text>
<text class="b" x="470.8" y="531.8" font-size="15" textLength="41.4" lengthAdjust="spacingAndGlyphs">EDTA</text>
<text class="b" transform="translate(286.2,516.7) rotate(-90)" font-size="18.6">Adhered cells (Per field)</text>
</g>
</svg>
</body></html>
